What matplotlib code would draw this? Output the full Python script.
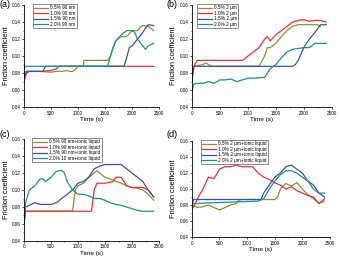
import matplotlib
matplotlib.use("Agg")
import matplotlib.pyplot as plt
from matplotlib.ticker import MultipleLocator

plt.rcParams['font.family'] = ['Liberation Sans', 'DejaVu Sans']

colors = ['#8f8f33', '#e8303a', '#3a4fb5', '#17948a']

# (a) 90 nm
a_labels = ['0.5% 90 nm', '1.0% 90 nm', '1.5% 90 nm', '2.0% 90 nm']
a_t = [
    [0, 20, 100, 300, 500, 600, 700, 800, 850, 900, 950, 1000, 1100, 1110, 1550, 1600, 1650, 1700, 1800, 1900, 2000, 2100, 2150, 2200, 2300, 2400],
    [0, 50, 100, 300, 500, 600, 650, 2400],
    [0, 50, 350, 400, 1850, 1900, 1950, 2000, 2100, 2200, 2250, 2300, 2400],
    [0, 30, 1550, 1600, 1650, 1700, 1800, 1900, 2000, 2050, 2100, 2200, 2250, 2300, 2400],
]
a_y = [
    [0.070, 0.082, 0.082, 0.082, 0.081, 0.082, 0.082, 0.083, 0.082, 0.082, 0.084, 0.088, 0.088, 0.095, 0.095, 0.100, 0.110, 0.118, 0.123, 0.123, 0.130, 0.130, 0.134, 0.136, 0.135, 0.130],
    [0.070, 0.080, 0.082, 0.082, 0.083, 0.085, 0.088, 0.088],
    [0.075, 0.082, 0.082, 0.088, 0.088, 0.098, 0.110, 0.112, 0.120, 0.128, 0.133, 0.137, 0.136],
    [0.085, 0.088, 0.088, 0.100, 0.110, 0.118, 0.125, 0.130, 0.130, 0.128, 0.120, 0.112, 0.108, 0.112, 0.115],
]

# (b) 2 um
b_labels = ['0.5% 2 μm', '1.0% 2 μm', '1.5% 2 μm', '2.0% 2 μm']
b_t = [
    [0, 30, 200, 250, 300, 350, 1200, 1300, 1350, 1400, 1500, 1600, 1700, 1800, 1900, 2000, 2250, 2300],
    [0, 50, 100, 900, 950, 1000, 1100, 1200, 1300, 1350, 1400, 1500, 1600, 1700, 1800, 1900, 2000, 2100, 2200, 2300, 2400],
    [0, 30, 1800, 1850, 1900, 2000, 2100, 2200, 2300, 2400],
    [0, 30, 100, 200, 300, 400, 500, 600, 700, 800, 900, 1000, 1100, 1300, 1350, 1400, 1500, 1600, 1700, 1800, 2000, 2100, 2200, 2400],
]
b_y = [
    [0.070, 0.088, 0.090, 0.092, 0.090, 0.088, 0.088, 0.100, 0.110, 0.110, 0.115, 0.123, 0.130, 0.135, 0.137, 0.137, 0.137, 0.135],
    [0.075, 0.090, 0.095, 0.095, 0.097, 0.100, 0.105, 0.110, 0.120, 0.123, 0.118, 0.125, 0.130, 0.135, 0.140, 0.142, 0.143, 0.141, 0.142, 0.142, 0.140],
    [0.070, 0.088, 0.088, 0.090, 0.095, 0.110, 0.120, 0.128, 0.137, 0.137],
    [0.058, 0.067, 0.068, 0.068, 0.070, 0.068, 0.072, 0.072, 0.073, 0.070, 0.072, 0.074, 0.074, 0.075, 0.080, 0.085, 0.090, 0.098, 0.105, 0.108, 0.110, 0.110, 0.115, 0.115],
]

# (c) 90 nm + ionic liquid
c_labels = ['0.5% 90 nm+ionic liquid', '1.0% 90 nm+ionic liquid', '1.5% 90 nm+ionic liquid', '2.0% 10 nm+ionic liquid']
c_t = [
    [0, 30, 900, 950, 1000, 1100, 1200, 1300, 1350, 1400, 1500, 1600, 1700, 1800, 1900, 2000, 2100, 2200, 2300, 2400],
    [0, 30, 1250, 1300, 1350, 1500, 1650, 1700, 1800, 1850, 1900, 2000, 2200, 2300, 2400],
    [0, 30, 100, 200, 300, 500, 600, 700, 800, 900, 1000, 1100, 1200, 1300, 1400, 1500, 1800, 1900, 2000, 2100, 2200, 2300, 2400],
    [0, 30, 100, 200, 300, 350, 400, 500, 600, 700, 750, 800, 900, 1000, 1100, 1200, 1300, 1400, 1500, 1600, 1700, 1800, 1900, 2000, 2100, 2200, 2400],
]
c_y = [
    [0.060, 0.075, 0.075, 0.100, 0.105, 0.108, 0.115, 0.120, 0.123, 0.120, 0.115, 0.113, 0.110, 0.108, 0.105, 0.103, 0.102, 0.100, 0.095, 0.088],
    [0.060, 0.075, 0.075, 0.100, 0.108, 0.108, 0.110, 0.115, 0.115, 0.110, 0.105, 0.103, 0.103, 0.100, 0.092],
    [0.060, 0.080, 0.082, 0.085, 0.083, 0.083, 0.085, 0.090, 0.095, 0.100, 0.108, 0.110, 0.115, 0.125, 0.128, 0.130, 0.130, 0.125, 0.120, 0.115, 0.110, 0.100, 0.092],
    [0.070, 0.085, 0.100, 0.105, 0.113, 0.113, 0.110, 0.115, 0.122, 0.123, 0.120, 0.110, 0.100, 0.095, 0.095, 0.093, 0.090, 0.090, 0.088, 0.085, 0.083, 0.082, 0.080, 0.078, 0.076, 0.075, 0.075],
]

# (d) 2 um + ionic liquid
d_labels = ['0.5% 2 μm+ionic liquid', '1.0% 2 μm+ionic liquid', '1.5% 2 μm+ionic liquid', '2.0% 2 μm+ionic liquid']
d_t = [
    [0, 100, 200, 300, 400, 500, 600, 700, 800, 850, 900, 1000, 1500, 1550, 1600, 1700, 1800, 1900, 2000, 2100, 2200, 2300, 2400],
    [0, 50, 100, 200, 300, 400, 500, 600, 700, 800, 900, 1100, 1200, 1300, 1400, 1500, 1600, 1700, 1800, 1900, 2000, 2100, 2200, 2300, 2400],
    [0, 30, 1250, 1300, 1400, 1500, 1600, 1700, 1800, 1900, 2000, 2100, 2200, 2300, 2400],
    [0, 30, 1200, 1300, 1400, 1500, 1600, 1700, 1800, 1900, 2000, 2100, 2200, 2300, 2400],
]
d_y = [
    [0.080, 0.077, 0.078, 0.080, 0.077, 0.074, 0.077, 0.080, 0.082, 0.086, 0.087, 0.087, 0.087, 0.090, 0.100, 0.107, 0.104, 0.108, 0.100, 0.093, 0.088, 0.082, 0.085],
    [0.075, 0.080, 0.088, 0.100, 0.115, 0.113, 0.125, 0.128, 0.128, 0.130, 0.128, 0.128, 0.120, 0.115, 0.112, 0.108, 0.105, 0.100, 0.103, 0.098, 0.095, 0.092, 0.090, 0.082, 0.088],
    [0.080, 0.087, 0.087, 0.095, 0.105, 0.115, 0.120, 0.128, 0.130, 0.125, 0.120, 0.110, 0.105, 0.095, 0.090],
    [0.080, 0.082, 0.085, 0.088, 0.100, 0.110, 0.118, 0.123, 0.123, 0.120, 0.115, 0.110, 0.100, 0.095, 0.095],
]

# tag, labels, times, values, axes rect, legend x, tag position
panels = [
    ('(a)', a_labels, a_t, a_y, [0.070, 0.585, 0.395, 0.395], 0.065, (0.0, 0.981)),
    ('(b)', b_labels, b_t, b_y, [0.561, 0.585, 0.409, 0.395], 0.035, (0.487, 0.981)),
    ('(c)', c_labels, c_t, c_y, [0.070, 0.066, 0.395, 0.395], 0.06, (0.0, 0.48)),
    ('(d)', d_labels, d_t, d_y, [0.561, 0.081, 0.404, 0.372], 0.065, (0.487, 0.48)),
]

fig = plt.figure(figsize=(3.42, 2.58), dpi=100)

for tag, labels, ts, ys, pos, lx, tpos in panels:
    ax = fig.add_axes(pos)
    for i in range(4):
        ax.plot(ts[i], ys[i], color=colors[i], lw=0.9, label=labels[i])
    ax.set_xlim(0, 2500)
    ax.set_ylim(0.04, 0.16)
    ax.set_xticks([0, 500, 1000, 1500, 2000, 2500])
    ax.set_yticks([0.04, 0.06, 0.08, 0.10, 0.12, 0.14, 0.16])
    ax.set_yticklabels(['0.04', '0.06', '0.08', '0.10', '0.12', '0.14', '0.16'])
    ax.xaxis.set_minor_locator(MultipleLocator(250))
    ax.yaxis.set_minor_locator(MultipleLocator(0.01))
    ax.tick_params(which='major', direction='out', labelsize=3.3, length=1.5, width=0.5, pad=1)
    ax.tick_params(which='minor', direction='out', length=0.8, width=0.4)
    ax.spines['top'].set_visible(False)
    ax.spines['right'].set_visible(False)
    for s in ['left', 'bottom']:
        ax.spines[s].set_linewidth(0.6)
    ax.set_xlabel('Time (s)', fontsize=4.6, labelpad=1)
    ax.set_ylabel('Friction coefficient', fontsize=5.3, labelpad=1.5)
    leg = ax.legend(loc='upper left', bbox_to_anchor=(lx, 1.01), fontsize=3.4,
                    frameon=True, fancybox=False, borderpad=0.25, labelspacing=0.12,
                    handlelength=3.0, handletextpad=0.4, borderaxespad=0.0)
    leg.get_frame().set_edgecolor('#333333')
    leg.get_frame().set_linewidth(0.5)
    fig.text(tpos[0], tpos[1], tag, fontsize=6.5, ha='left', va='center')

fig.savefig('out.png', dpi=100)
